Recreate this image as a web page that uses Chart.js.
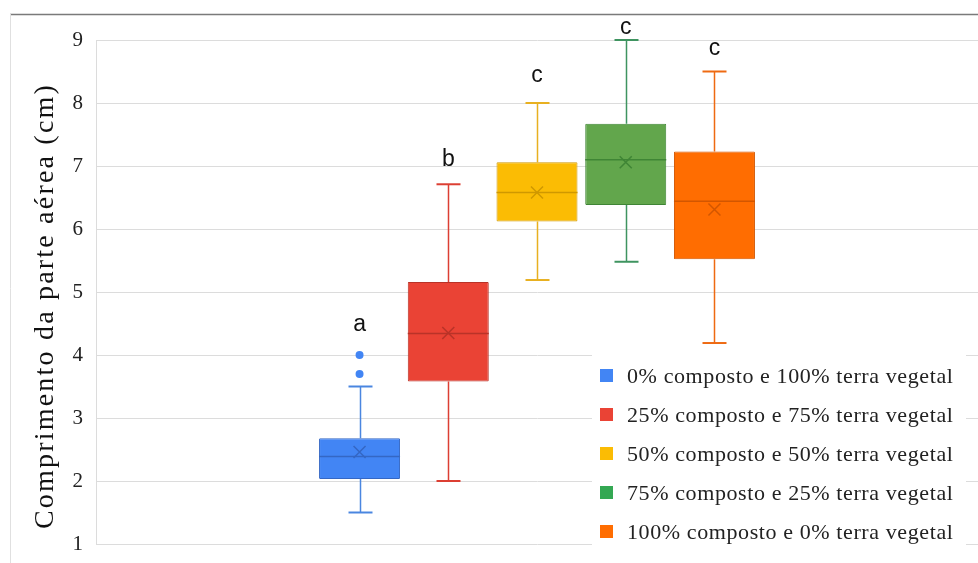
<!DOCTYPE html>
<html>
<head>
<meta charset="utf-8">
<script src="https://cdn.jsdelivr.net/npm/chart.js@4"></script>
<style>
  html, body { margin: 0; padding: 0; background: #fff; }
  #wrap { width: 978px; height: 563px; }
</style>
</head>
<body>
<div id="wrap"><canvas id="myChart" width="978" height="563"></canvas></div>
<script>
// valores (cm)
const groups = [
    '0% composto e 100% terra vegetal',
    '25% composto e 75% terra vegetal',
    '50% composto e 50% terra vegetal',
    '75% composto e 25% terra vegetal',
    '100% composto e 0% terra vegetal'
];
const mins = [1.5, 2.0, 5.19, 5.48, 4.19];
const q1 = [2.03, 3.58, 6.12, 6.38, 5.52];
const medians = [2.39, 4.34, 6.58, 7.10, 6.44];
const q3 = [2.68, 5.16, 7.06, 7.67, 7.23];
const maxs = [3.5, 6.71, 8.0, 9.0, 8.5];
const means = [2.46, 4.35, 6.58, 7.06, 6.31];
const outliers = [[3.7, 4.0], [], [], [], []];
const letters = ['a', 'b', 'c', 'c', 'c'];
const letterY = [4.48, 7.10, 8.44, 9.20, 8.87];
const yTicks = [1, 2, 3, 4, 5, 6, 7, 8, 9];
const yTitle = 'Comprimento da parte aérea (cm)';

const fillColors = ['#4285f4', '#ea4335', '#fbbc04', '#62a64c', '#ff6d01'];
const lineColors = ['#4a86e0', '#dc3f33', '#e8b020', '#3f9460', '#ee6a12'];
const darkColors = ['#3467c4', '#b93328', '#cf9800', '#3f8535', '#d25600'];
const legendColors = ['#4285f4', '#ea4335', '#fbbc04', '#34a853', '#ff6d01'];

const serif = '"Liberation Serif", "Times New Roman", serif';

const boxPlugin = {
    id: 'boxExtras',
    beforeDraw(chart) {
        const ctx = chart.ctx;
        ctx.save();
        // moldura
        ctx.strokeStyle = '#7a7a7a';
        ctx.lineWidth = 1.5;
        ctx.beginPath();
        ctx.moveTo(10, 14.5);
        ctx.lineTo(chart.width, 14.5);
        ctx.stroke();
        ctx.strokeStyle = '#e0e0e0';
        ctx.lineWidth = 1;
        ctx.beginPath();
        ctx.moveTo(10.5, 14);
        ctx.lineTo(10.5, chart.height);
        ctx.stroke();
        // titulo do eixo y
        const area = chart.chartArea;
        ctx.translate(46, (area.top + area.bottom) / 2 + 14);
        ctx.rotate(-Math.PI / 2);
        ctx.font = '28px ' + serif;
        ctx.letterSpacing = '2.2px';
        ctx.fillStyle = '#111';
        ctx.textAlign = 'center';
        ctx.textBaseline = 'middle';
        ctx.fillText(yTitle, 0, 0);
        ctx.restore();
    },
    beforeDatasetsDraw(chart) {
        const ctx = chart.ctx;
        const y = chart.scales.y;
        ctx.save();
        groups.forEach((g, i) => {
            const bar = chart.getDatasetMeta(i).data[0];
            const x = Math.round(bar.x) + 0.5;
            ctx.strokeStyle = lineColors[i];
            ctx.lineWidth = 1.5;
            ctx.beginPath();
            ctx.moveTo(x, y.getPixelForValue(q3[i]));
            ctx.lineTo(x, y.getPixelForValue(maxs[i]));
            ctx.moveTo(x, y.getPixelForValue(q1[i]));
            ctx.lineTo(x, y.getPixelForValue(mins[i]));
            ctx.stroke();
            ctx.lineWidth = 2;
            [maxs[i], mins[i]].forEach(v => {
                const py = y.getPixelForValue(v);
                ctx.beginPath();
                ctx.moveTo(x - 12, py);
                ctx.lineTo(x + 12, py);
                ctx.stroke();
            });
        });
        ctx.restore();
    },
    afterDatasetsDraw(chart) {
        const ctx = chart.ctx;
        const y = chart.scales.y;
        ctx.save();
        groups.forEach((g, i) => {
            const bar = chart.getDatasetMeta(i).data[0];
            const x = bar.x;
            const half = bar.width / 2;
            // mediana
            const my = y.getPixelForValue(medians[i]);
            ctx.strokeStyle = darkColors[i];
            ctx.lineWidth = 1.5;
            ctx.beginPath();
            ctx.moveTo(x - half, my);
            ctx.lineTo(x + half, my);
            ctx.stroke();
            // media (x)
            const ay = y.getPixelForValue(means[i]);
            ctx.beginPath();
            ctx.moveTo(x - 6, ay - 6);
            ctx.lineTo(x + 6, ay + 6);
            ctx.moveTo(x + 6, ay - 6);
            ctx.lineTo(x - 6, ay + 6);
            ctx.stroke();
            // outliers
            ctx.fillStyle = fillColors[i];
            outliers[i].forEach(v => {
                ctx.beginPath();
                ctx.arc(x, y.getPixelForValue(v), 4, 0, Math.PI * 2);
                ctx.fill();
            });
            // letras
            ctx.fillStyle = '#111';
            ctx.font = '23px "Liberation Sans", Arial, sans-serif';
            ctx.textAlign = 'center';
            ctx.textBaseline = 'middle';
            ctx.fillText(letters[i], x, y.getPixelForValue(letterY[i]));
        });
        ctx.restore();
    },
    afterDraw(chart) {
        // legenda
        const ctx = chart.ctx;
        ctx.save();
        ctx.fillStyle = '#fff';
        ctx.fillRect(592, 350, 374, 198);
        ctx.font = '22px ' + serif;
        ctx.letterSpacing = '0.6px';
        ctx.textAlign = 'left';
        ctx.textBaseline = 'middle';
        groups.forEach((g, i) => {
            const cy = 376 + i * 39;
            ctx.fillStyle = legendColors[i];
            ctx.fillRect(600, cy - 7, 13, 13);
            ctx.fillStyle = '#222';
            ctx.fillText(g, 627, cy + 1);
        });
        ctx.restore();
    }
};

const chart = new Chart(document.getElementById('myChart'), {
    type: 'bar',
    data: {
        labels: [''],
        datasets: groups.map((g, i) => ({
            label: g,
            data: [[q1[i], q3[i]]],
            backgroundColor: fillColors[i],
            borderColor: darkColors[i],
            borderWidth: 1,
            borderSkipped: false,
            borderRadius: 1,
            barPercentage: 0.913,
            categoryPercentage: 0.503
        }))
    },
    options: {
        responsive: false,
        animation: false,
        layout: { padding: { top: 40, bottom: 19, left: 10, right: 0 } },
        plugins: {
            legend: { display: false },
            tooltip: { enabled: false }
        },
        scales: {
            x: { display: false },
            y: {
                min: 1,
                max: 9,
                afterBuildTicks: (scale) => { scale.ticks = yTicks.map(v => ({ value: v })); },
                afterFit: (scale) => { scale.width = 86; },
                ticks: {
                    padding: 13,
                    color: '#222',
                    font: { family: serif, size: 21, lineHeight: 0.5 }
                },
                grid: { color: '#dcdcdc', drawTicks: false },
                border: { color: '#dcdcdc' },
                title: { display: false }
            }
        }
    },
    plugins: [boxPlugin]
});
</script>
</body>
</html>
